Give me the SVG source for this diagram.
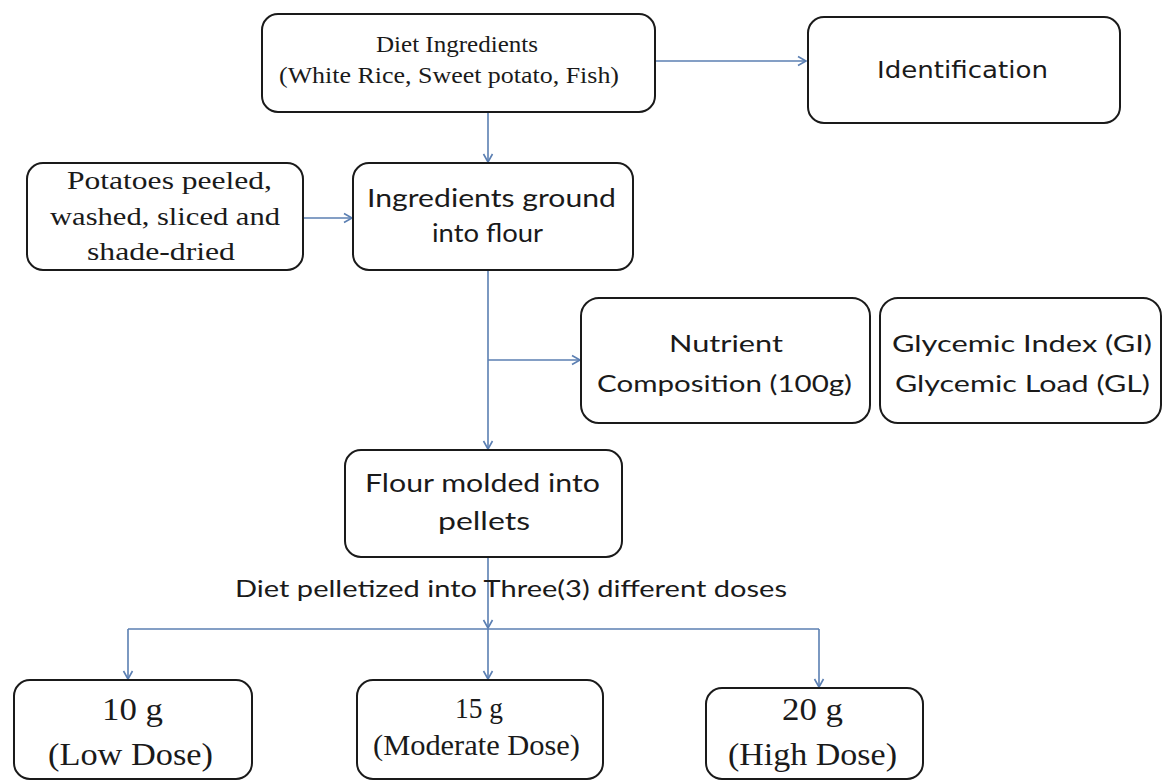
<svg xmlns="http://www.w3.org/2000/svg" width="1162" height="780" viewBox="0 0 1162 780">
<style>
.box{fill:#fff;stroke:#1a1a1a;stroke-width:2}
.serif{font-family:"Liberation Serif","Times New Roman",serif;fill:#1a1a1a}
.sans{font-family:Lato,"Open Sans",sans-serif;fill:#1a1a1a}
.tah{font-family:"DejaVu Sans",Verdana,sans-serif;fill:#1a1a1a}
.con{fill:none;stroke:#5b7fb2;stroke-width:1.6}
</style>
<defs>
<marker id="arr" markerUnits="userSpaceOnUse" markerWidth="12" markerHeight="12" refX="9" refY="6" orient="auto">
<path d="M1,1.5 L9,6 L1,10.5" fill="none" stroke="#5b7fb2" stroke-width="1.6"/>
</marker>
</defs>
<rect width="1162" height="780" fill="#fff"/>
<g id="connectors">
<path class="con" d="M655,61 H806" marker-end="url(#arr)"/>
<path class="con" d="M488,112 V162" marker-end="url(#arr)"/>
<path class="con" d="M303,218 H352" marker-end="url(#arr)"/>
<path class="con" d="M488,270 V449" marker-end="url(#arr)"/>
<path class="con" d="M488,360 H580" marker-end="url(#arr)"/>
<path class="con" d="M488,557 V628" marker-end="url(#arr)"/>
<path class="con" d="M128,629 H819"/>
<path class="con" d="M128,629 V679" marker-end="url(#arr)"/>
<path class="con" d="M488,629 V679" marker-end="url(#arr)"/>
<path class="con" d="M819,629 V687" marker-end="url(#arr)"/>
</g>
<g id="diet-ingredients">
<rect class="box" x="262" y="14" width="393" height="98" rx="16"/>
<text class="serif" x="376" y="52" font-size="24" textLength="162" lengthAdjust="spacingAndGlyphs">Diet Ingredients</text>
<text class="serif" x="279" y="83" font-size="24" textLength="340" lengthAdjust="spacingAndGlyphs">(White Rice, Sweet potato, Fish)</text>
</g>
<g id="identification">
<rect class="box" x="808" y="17" width="312" height="106" rx="16"/>
<text class="tah" x="877" y="78" font-size="23" textLength="171" lengthAdjust="spacingAndGlyphs">Identification</text>
</g>
<g id="potatoes">
<rect class="box" x="27" y="163" width="276" height="107" rx="16"/>
<text class="serif" x="67" y="189" font-size="25" textLength="205" lengthAdjust="spacingAndGlyphs">Potatoes peeled,</text>
<text class="serif" x="50" y="225" font-size="25" textLength="230" lengthAdjust="spacingAndGlyphs">washed, sliced and</text>
<text class="serif" x="87" y="260" font-size="25" textLength="148" lengthAdjust="spacingAndGlyphs">shade-dried</text>
</g>
<g id="ingredients-ground">
<rect class="box" x="353" y="163" width="280" height="107" rx="16"/>
<text class="sans" x="367" y="207" font-size="25" textLength="249" lengthAdjust="spacingAndGlyphs">Ingredients ground</text>
<text class="sans" x="432" y="242" font-size="25" textLength="111" lengthAdjust="spacingAndGlyphs">into flour</text>
</g>
<g id="nutrient">
<rect class="box" x="581" y="298" width="289" height="125" rx="18"/>
<text class="sans" x="669" y="352" font-size="24" textLength="114" lengthAdjust="spacingAndGlyphs">Nutrient</text>
<text class="sans" x="597" y="392" font-size="24" textLength="255" lengthAdjust="spacingAndGlyphs">Composition (100g)</text>
</g>
<g id="glycemic">
<rect class="box" x="880" y="298" width="281" height="125" rx="18"/>
<text class="sans" x="892" y="352" font-size="24" textLength="260" lengthAdjust="spacingAndGlyphs">Glycemic Index (GI)</text>
<text class="sans" x="895" y="392" font-size="24" textLength="255" lengthAdjust="spacingAndGlyphs">Glycemic Load (GL)</text>
</g>
<g id="flour-molded">
<rect class="box" x="345" y="450" width="277" height="107" rx="16"/>
<text class="sans" x="365" y="492" font-size="25" textLength="235" lengthAdjust="spacingAndGlyphs">Flour molded into</text>
<text class="sans" x="438" y="530" font-size="25" textLength="92" lengthAdjust="spacingAndGlyphs">pellets</text>
</g>
<g id="label">
<text class="sans" x="235" y="597" font-size="24" textLength="552" lengthAdjust="spacingAndGlyphs">Diet pelletized into Three(3) different doses</text>
</g>
<g id="low-dose">
<rect class="box" x="14" y="680" width="238" height="99" rx="16"/>
<text class="serif" x="102" y="720" font-size="32" textLength="61" lengthAdjust="spacingAndGlyphs">10 g</text>
<text class="serif" x="48" y="765" font-size="32" textLength="165" lengthAdjust="spacingAndGlyphs">(Low Dose)</text>
</g>
<g id="moderate-dose">
<rect class="box" x="357" y="680" width="246" height="99" rx="16"/>
<text class="serif" x="455" y="718" font-size="30" textLength="48" lengthAdjust="spacingAndGlyphs">15 g</text>
<text class="serif" x="373" y="755" font-size="30" textLength="207" lengthAdjust="spacingAndGlyphs">(Moderate Dose)</text>
</g>
<g id="high-dose">
<rect class="box" x="706" y="688" width="217" height="91" rx="16"/>
<text class="serif" x="782" y="720" font-size="32" textLength="61" lengthAdjust="spacingAndGlyphs">20 g</text>
<text class="serif" x="728" y="765" font-size="32" textLength="169" lengthAdjust="spacingAndGlyphs">(High Dose)</text>
</g>
</svg>
